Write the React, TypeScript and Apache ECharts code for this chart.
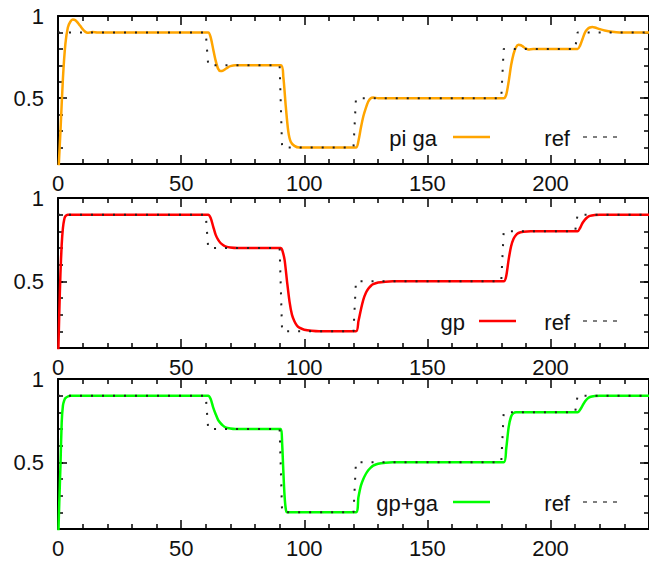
import React, { useEffect, useRef } from "react";
import * as echarts from "echarts";

// reference step signal (time, value)
const refData: [number, number][] = [
  [0, 0.9], [60, 0.9], [61, 0.7], [90, 0.7], [91, 0.2], [120, 0.2],
  [121, 0.5], [180, 0.5], [181, 0.8], [210, 0.8], [211, 0.9], [240, 0.9],
];

// "pi ga" response
const piGaData: [number, number][] = [
  [0, 0], [1, 0.3], [2, 0.62], [3, 0.83], [4, 0.93], [5, 0.965], [6, 0.978], [7, 0.975],
  [8, 0.96], [9, 0.94], [10, 0.92], [11, 0.905], [12, 0.898], [14, 0.902], [16, 0.9],
  [61, 0.9], [62, 0.87], [63, 0.8], [64, 0.73], [65, 0.68], [66, 0.665], [67, 0.668],
  [68, 0.678], [69, 0.688], [70, 0.695], [72, 0.7],
  [90.5, 0.7], [91.5, 0.63], [92.5, 0.45], [93.5, 0.3], [94.5, 0.235], [96, 0.21], [98, 0.2],
  [121, 0.2], [122, 0.24], [123, 0.32], [124, 0.39], [125, 0.44], [126, 0.48], [127, 0.5],
  [128, 0.504], [130, 0.5],
  [181, 0.5], [182, 0.52], [183, 0.6], [184, 0.7], [185, 0.77], [186, 0.81], [187, 0.825],
  [188, 0.822], [189, 0.812], [190, 0.803], [191, 0.797], [193, 0.8],
  [211, 0.8], [212, 0.82], [213, 0.86], [214, 0.9], [215, 0.92], [216, 0.93], [217, 0.933],
  [218, 0.93], [220, 0.92], [222, 0.912], [225, 0.904], [228, 0.9], [240, 0.9],
];

// "gp" response
const gpData: [number, number][] = [
  [0, 0], [0.5, 0.3], [1, 0.55], [1.5, 0.72], [2, 0.82], [2.5, 0.87], [3, 0.89], [4, 0.9],
  [61, 0.9], [62, 0.88], [63, 0.83], [64, 0.78], [65, 0.75], [66, 0.73], [67, 0.718],
  [68, 0.71], [70, 0.703], [73, 0.7],
  [90.5, 0.7], [91, 0.69], [92, 0.63], [93, 0.5], [94, 0.38], [95, 0.3], [96, 0.26],
  [97, 0.235], [98, 0.222], [100, 0.21], [103, 0.203], [106, 0.2],
  [121, 0.2], [122, 0.26], [123, 0.33], [124, 0.39], [125, 0.43], [126, 0.455], [127, 0.472],
  [128, 0.483], [130, 0.493], [133, 0.498], [136, 0.5],
  [181, 0.5], [182, 0.53], [183, 0.63], [184, 0.71], [185, 0.755], [186, 0.778], [187, 0.79],
  [189, 0.797], [192, 0.8],
  [211, 0.8], [212, 0.82], [213, 0.85], [214, 0.87], [215, 0.885], [216, 0.893], [218, 0.898],
  [220, 0.9], [240, 0.9],
];

// "gp+ga" response
const gpGaData: [number, number][] = [
  [0, 0], [0.5, 0.25], [1, 0.48], [1.5, 0.74], [2, 0.84], [2.5, 0.87], [3, 0.885], [4, 0.895],
  [5, 0.9],
  [61, 0.9], [62, 0.88], [63, 0.83], [64, 0.79], [65, 0.755], [66, 0.735], [67, 0.72],
  [68, 0.71], [70, 0.703], [72, 0.7],
  [90.5, 0.7], [91, 0.62], [91.5, 0.45], [92, 0.3], [92.5, 0.22], [93, 0.2],
  [121, 0.2], [122, 0.29], [123, 0.36], [124, 0.4], [125, 0.43], [126, 0.452], [127, 0.468],
  [128, 0.48], [130, 0.492], [133, 0.498], [136, 0.5],
  [181, 0.5], [182, 0.58], [183, 0.71], [184, 0.775], [185, 0.795], [186, 0.8],
  [211, 0.8], [212, 0.815], [213, 0.84], [214, 0.865], [215, 0.882], [216, 0.892], [218, 0.898],
  [220, 0.9], [240, 0.9],
];

const xTickLabels = [0, 50, 100, 150, 200];
const yTickLabels = [0.5, 1];
const panelNames = ["pi ga", "gp", "gp+ga"];
const panelColors = ["#ffa500", "#ff0000", "#00ff00"];
const panelData = [piGaData, gpData, gpGaData];

const FONT = "Liberation Sans, Arial, sans-serif";
const TEXT = "#111";

export default function App() {
  const ref = useRef<HTMLDivElement>(null);
  useEffect(() => {
    if (!ref.current) return;
    const chart = echarts.init(ref.current, undefined, { renderer: "svg" });
    const tops = [16, 198, 379];
    const heights = [148, 150, 150];
    const grids: any[] = [];
    const xAxes: any[] = [];
    const yAxes: any[] = [];
    const series: any[] = [];
    const graphic: any[] = [];
    const line = { lineStyle: { color: "#000", width: 2 } };
    const tickStyle = { color: "#000", width: 1.5 };

    for (let i = 0; i < 3; i++) {
      grids.push({ left: 58, width: 593, top: tops[i], height: heights[i] });
      const xb = xAxes.length;
      for (const pos of ["bottom", "top"]) {
        xAxes.push({
          gridIndex: i,
          type: "value",
          position: pos,
          min: 0,
          max: 240,
          interval: 50,
          axisLine: { show: true, onZero: false, ...line },
          axisTick: { show: true, inside: true, length: 9, lineStyle: tickStyle },
          minorTick: { show: true, splitNumber: 5, length: 5, lineStyle: tickStyle },
          axisLabel: {
            show: pos === "bottom",
            showMaxLabel: false,
            fontSize: 22,
            fontFamily: FONT,
            color: TEXT,
            margin: 8,
            formatter: (v: number) => (xTickLabels.includes(v) ? String(v) : ""),
          },
          splitLine: { show: false },
        });
      }
      const yb = yAxes.length;
      for (const pos of ["left", "right"]) {
        yAxes.push({
          gridIndex: i,
          type: "value",
          position: pos,
          min: 0.1,
          max: 1,
          interval: 0.1,
          axisLine: { show: true, onZero: false, ...line },
          axisTick: { show: true, inside: true, length: 5, lineStyle: tickStyle },
          axisLabel: {
            show: pos === "left",
            fontSize: 22,
            fontFamily: FONT,
            color: TEXT,
            margin: 14,
            formatter: (v: number) => {
              const m = yTickLabels.find((t) => Math.abs(t - v) < 1e-6);
              return m === undefined ? "" : String(m);
            },
          },
          splitLine: { show: false },
        });
        yAxes.push({
          gridIndex: i,
          type: "value",
          position: pos,
          min: 0.1,
          max: 1,
          axisLine: { show: false, onZero: false },
          axisTick: { show: true, inside: true, length: 9, customValues: [0.5], lineStyle: tickStyle },
          axisLabel: { show: false },
          splitLine: { show: false },
        });
      }
      series.push({
        type: "line",
        name: panelNames[i],
        xAxisIndex: xb,
        yAxisIndex: yb,
        data: panelData[i],
        showSymbol: false,
        smooth: 0.25,
        clip: true,
        lineStyle: { color: panelColors[i], width: 2.5 },
        z: 2,
      });
      series.push({
        type: "line",
        name: "ref",
        xAxisIndex: xb,
        yAxisIndex: yb,
        data: refData,
        showSymbol: false,
        clip: true,
        lineStyle: { color: "#222", width: 2, type: [2, 9] },
        z: 3,
      });
      const ly = tops[i] + heights[i] - 27;
      const nameRight = [437, 465, 438][i];
      const sampleStart = [453, 479, 453][i];
      graphic.push(
        {
          type: "text",
          x: nameRight,
          y: ly + 1,
          style: { text: panelNames[i], fill: TEXT, font: `22px ${FONT}`, align: "right", verticalAlign: "middle" },
        },
        {
          type: "line",
          shape: { x1: sampleStart, y1: ly, x2: sampleStart + 37, y2: ly },
          style: { stroke: panelColors[i], lineWidth: 2.5 },
        },
        {
          type: "text",
          x: 570,
          y: ly + 1,
          style: { text: "ref", fill: TEXT, font: `22px ${FONT}`, align: "right", verticalAlign: "middle" },
        },
        {
          type: "line",
          shape: { x1: 583, y1: ly, x2: 620, y2: ly },
          style: { stroke: "#555", lineWidth: 1.5, lineDash: [4, 6] },
        }
      );
    }

    chart.setOption({
      animation: false,
      backgroundColor: "#fff",
      grid: grids,
      xAxis: xAxes,
      yAxis: yAxes,
      series,
      graphic,
    });
    return () => chart.dispose();
  }, []);
  return (
    <div
      ref={ref}
      style={{ position: "fixed", left: 0, top: 0, width: 649, height: 561 }}
    />
  );
}
